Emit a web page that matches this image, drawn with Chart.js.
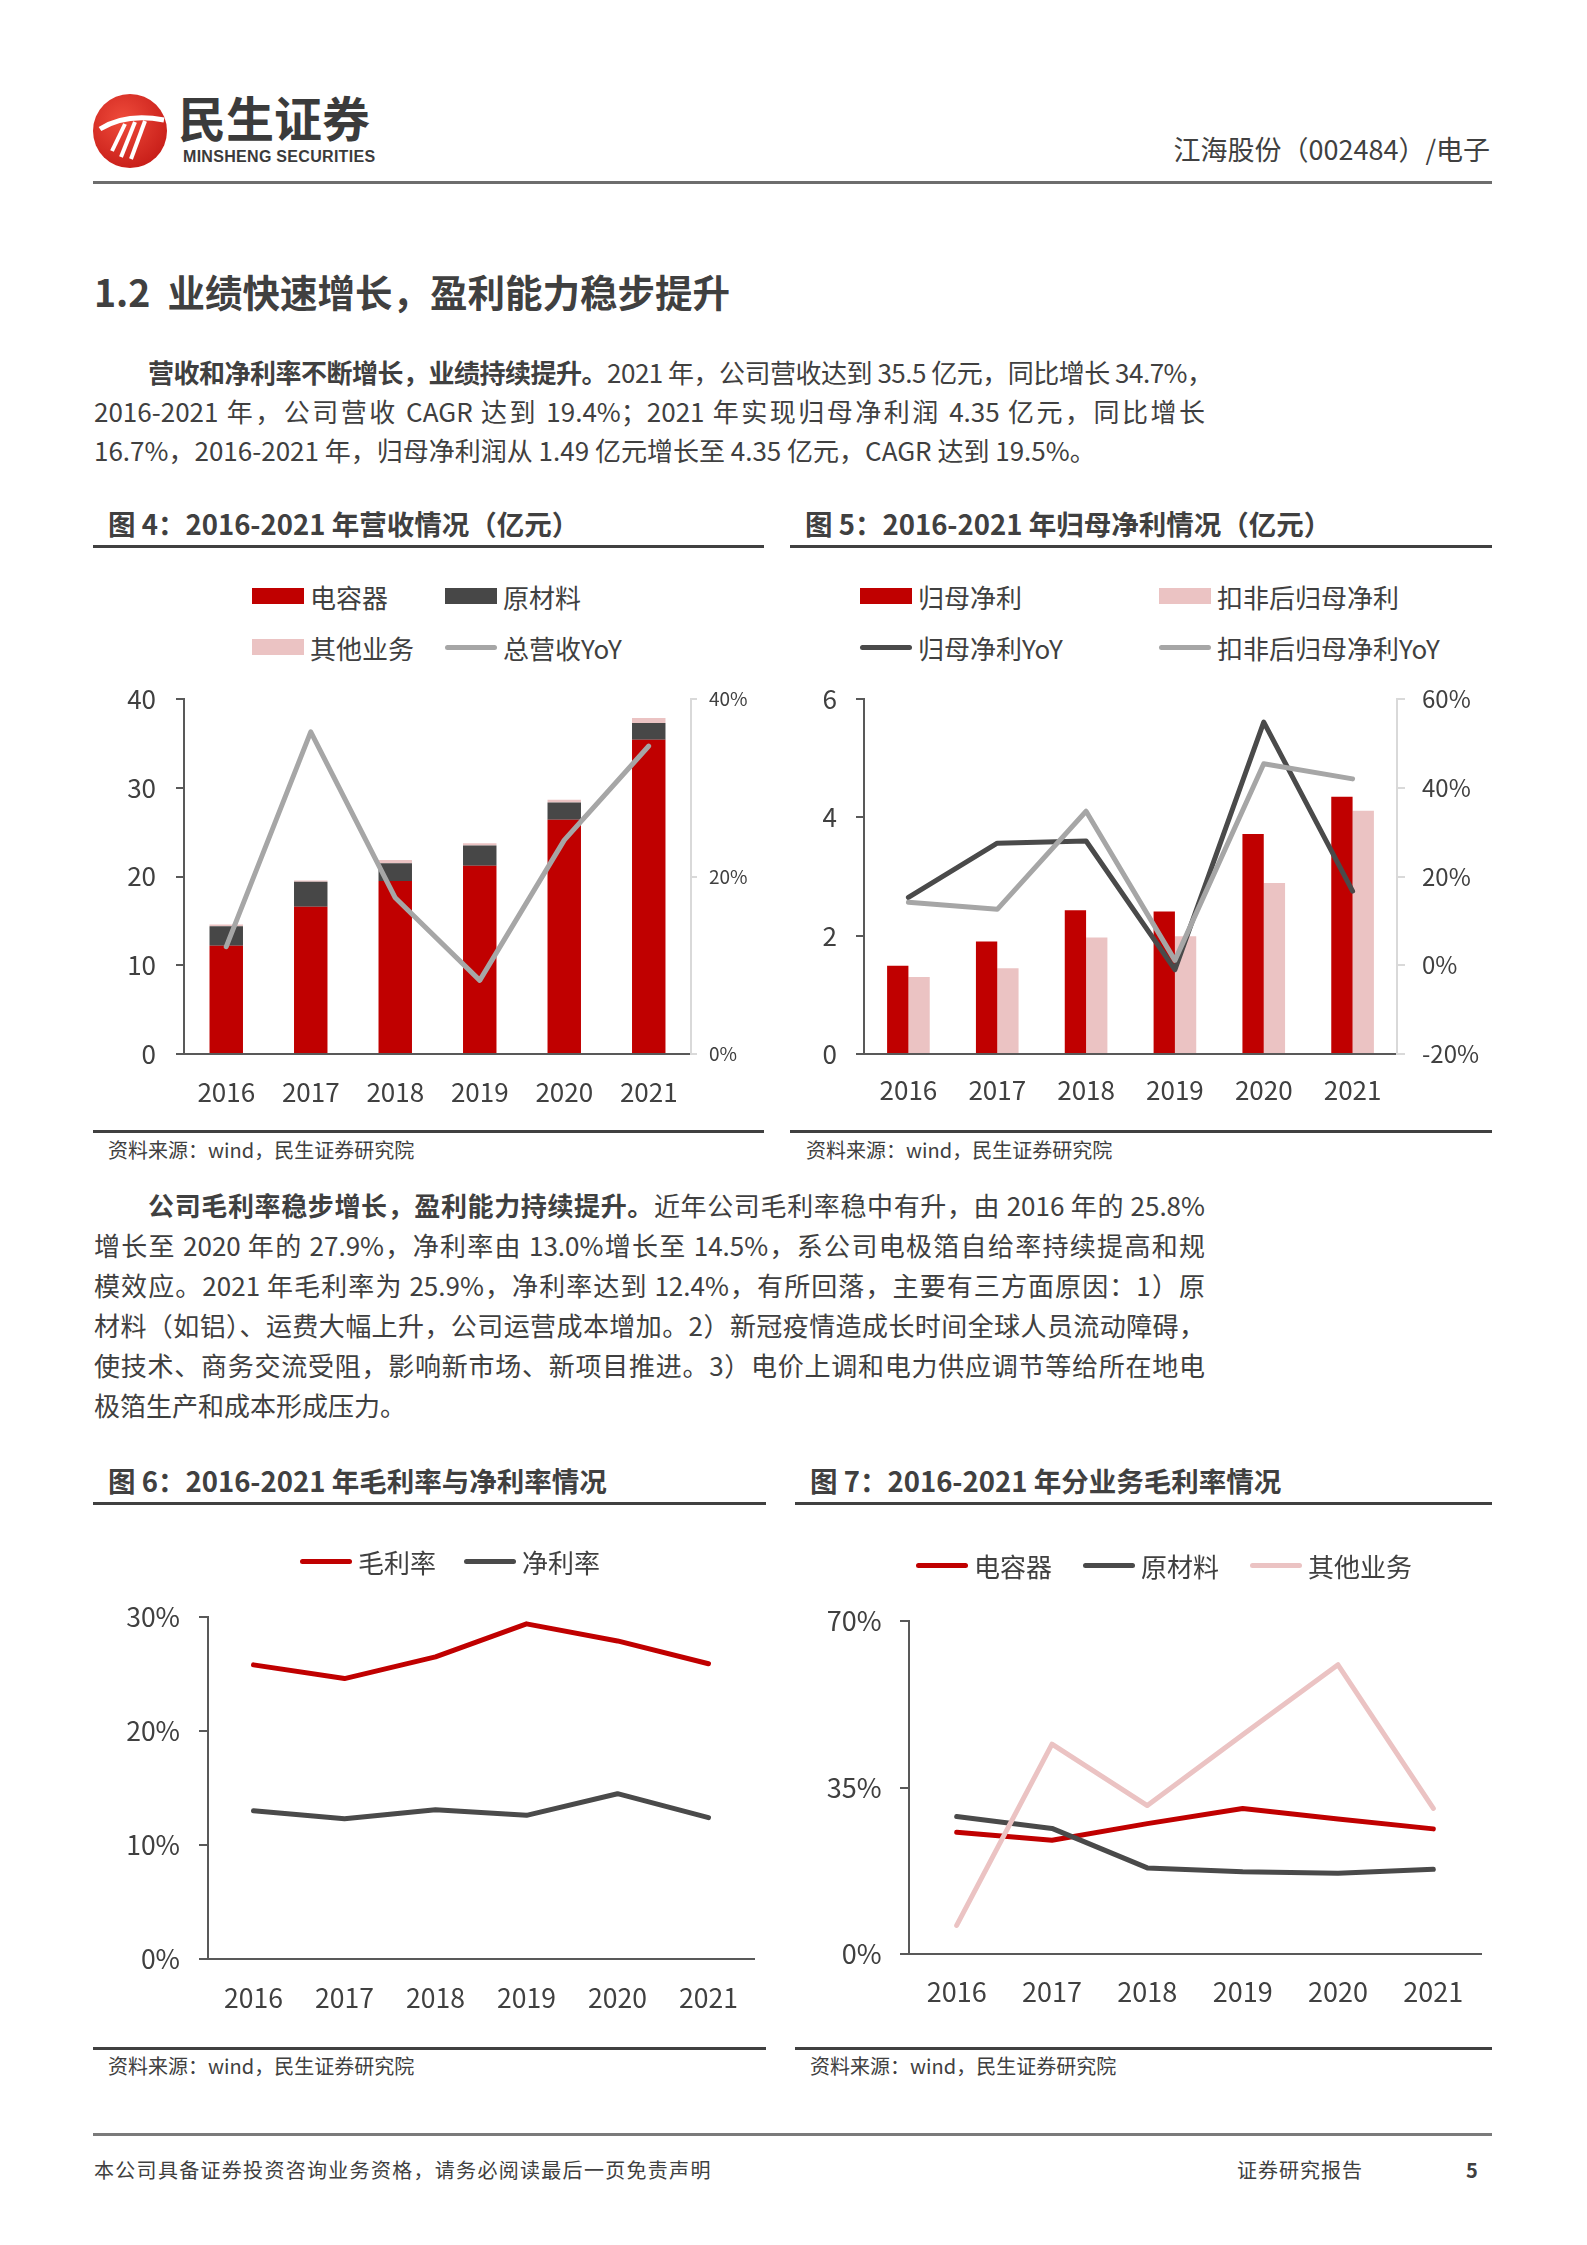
<!DOCTYPE html>
<html lang="zh-CN">
<head>
<meta charset="utf-8">
<title>江海股份（002484）/电子</title>
<script src="https://cdn.jsdelivr.net/npm/chart.js@4.4.1/dist/chart.umd.min.js"></script>
<style>
  html, body { margin: 0; padding: 0; background: #fff; }
  #page { position: relative; width: 1587px; height: 2245px; overflow: hidden; background: #fff;
          font-family: "Noto Sans CJK SC", "Noto Sans", sans-serif; color: #404040; }
  .abs { position: absolute; white-space: nowrap; }
  .rule { position: absolute; height: 3px; background: #404040; }
  .para { position: absolute; left: 94px; width: 1111px; font-size: 26px; }
  .para div { white-space: nowrap; text-align: justify; text-align-last: justify; }
  .para div.last { text-align-last: left; }
  .para b { font-weight: 700; }
  .ftitle { position: absolute; font-size: 27.5px; font-weight: 700; line-height: 40px; white-space: nowrap; }
  .src { position: absolute; font-size: 20px; line-height: 30px; white-space: nowrap; }
  .lg { position: absolute; height: 40px; display: flex; align-items: center; font-size: 26px; white-space: nowrap; }
  .lg .sw { display: inline-block; width: 52px; margin-right: 6px; }
  canvas { position: absolute; }
</style>
</head>
<body>
<div id="page">
  <!-- header -->
  <svg class="abs" style="left:92px;top:93px" width="76" height="76" viewBox="0 0 76 76">
    <defs>
      <radialGradient id="lg" cx="40%" cy="35%" r="70%">
        <stop offset="0" stop-color="#ef4b3b"/>
        <stop offset="1" stop-color="#c71d18"/>
      </radialGradient>
    </defs>
    <circle cx="38" cy="38" r="37" fill="url(#lg)"/>
    <path d="M8 36 C 24 26, 46 22, 72 27" stroke="#fff" stroke-width="5" fill="none"/>
    <path d="M20 58 L 33 31" stroke="#fff" stroke-width="4" fill="none"/>
    <path d="M29 64 L 43 29" stroke="#fff" stroke-width="4" fill="none"/>
    <path d="M39 66 L 53 28" stroke="#fff" stroke-width="4" fill="none"/>
  </svg>
  <div class="abs" style="left:178px;top:86px;font-size:48px;font-weight:700;line-height:60px;color:#3b3b3b;">民生证券</div>
  <div class="abs" style="left:183px;top:147px;font-family:'Liberation Sans',Arial,sans-serif;font-size:16px;font-weight:700;line-height:20px;letter-spacing:0.3px;color:#3b3b3b;">MINSHENG SECURITIES</div>
  <div class="abs" style="right:97px;top:132px;font-size:27px;line-height:34px;">江海股份（002484）/电子</div>
  <div class="rule" style="left:93px;top:181px;width:1399px;background:#6d6d6d;"></div>

  <!-- section heading -->
  <div class="abs" style="left:94px;top:266px;font-size:37.5px;font-weight:700;line-height:50px;">1.2&nbsp; 业绩快速增长，盈利能力稳步提升</div>

  <div class="para" style="top:352px;line-height:39px;">
    <div style="text-indent:54px;height:39px;letter-spacing:-0.5px;"><b>营收和净利率不断增长，业绩持续提升。</b>2021 年，公司营收达到 35.5 亿元，同比增长 34.7%，</div>
    <div style="height:39px;">2016-2021 年，公司营收 CAGR 达到 19.4%；2021 年实现归母净利润 4.35 亿元，同比增长</div>
    <div class="last" style="height:39px;">16.7%，2016-2021 年，归母净利润从 1.49 亿元增长至 4.35 亿元，CAGR 达到 19.5%。</div>
  </div>

  <!-- figure 4 / 5 -->
  <div class="ftitle" style="left:108px;top:503px;">图 4：2016-2021 年营收情况（亿元）</div>
  <div class="ftitle" style="left:805px;top:503px;">图 5：2016-2021 年归母净利情况（亿元）</div>
  <div class="rule" style="left:93px;top:545px;width:671px;"></div>
  <div class="rule" style="left:790px;top:545px;width:702px;"></div>
  <div id="leg4"></div>
  <div id="leg5"></div>
  <canvas id="fig4" width="673" height="466" style="left:93px;top:659px;"></canvas>
  <canvas id="fig5" width="702" height="466" style="left:790px;top:659px;"></canvas>
  <div class="rule" style="left:93px;top:1130px;width:671px;"></div>
  <div class="rule" style="left:790px;top:1130px;width:702px;"></div>
  <div class="src" style="left:108px;top:1135px;">资料来源：wind，民生证券研究院</div>
  <div class="src" style="left:806px;top:1135px;">资料来源：wind，民生证券研究院</div>

  <div class="para" style="top:1185px;line-height:40px;">
    <div style="text-indent:54px;height:40px;"><b>公司毛利率稳步增长，盈利能力持续提升。</b>近年公司毛利率稳中有升，由 2016 年的 25.8%</div>
    <div style="height:40px;">增长至 2020 年的 27.9%，净利率由 13.0%增长至 14.5%，系公司电极箔自给率持续提高和规</div>
    <div style="height:40px;">模效应。2021 年毛利率为 25.9%，净利率达到 12.4%，有所回落，主要有三方面原因：1）原</div>
    <div style="height:40px;">材料（如铝）、运费大幅上升，公司运营成本增加。2）新冠疫情造成长时间全球人员流动障碍，</div>
    <div style="height:40px;">使技术、商务交流受阻，影响新市场、新项目推进。3）电价上调和电力供应调节等给所在地电</div>
    <div class="last" style="height:40px;">极箔生产和成本形成压力。</div>
  </div>

  <!-- figure 6 / 7 -->
  <div class="ftitle" style="left:108px;top:1460px;">图 6：2016-2021 年毛利率与净利率情况</div>
  <div class="ftitle" style="left:810px;top:1460px;">图 7：2016-2021 年分业务毛利率情况</div>
  <div class="rule" style="left:93px;top:1502px;width:673px;"></div>
  <div class="rule" style="left:795px;top:1502px;width:697px;"></div>
  <canvas id="fig6" width="673" height="463" style="left:93px;top:1577px;"></canvas>
  <canvas id="fig7" width="702" height="459" style="left:790px;top:1581px;"></canvas>
  <div id="leg6"></div>
  <div id="leg7"></div>
  <div class="rule" style="left:93px;top:2047px;width:673px;"></div>
  <div class="rule" style="left:795px;top:2047px;width:697px;"></div>
  <div class="src" style="left:108px;top:2051px;">资料来源：wind，民生证券研究院</div>
  <div class="src" style="left:810px;top:2051px;">资料来源：wind，民生证券研究院</div>

  <!-- footer -->
  <div class="rule" style="left:93px;top:2133px;width:1399px;background:#7a7a7a;"></div>
  <div class="abs" style="left:94px;top:2155px;font-size:20px;line-height:30px;letter-spacing:1.3px;">本公司具备证券投资咨询业务资格，请务必阅读最后一页免责声明</div>
  <div class="abs" style="left:1237px;top:2155px;font-size:20px;line-height:30px;letter-spacing:1px;">证券研究报告</div>
  <div class="abs" style="left:1466px;top:2155px;font-size:20px;line-height:30px;font-weight:700;">5</div>
</div>

<script>
// ---- data ----
const years = ['2016', '2017', '2018', '2019', '2020', '2021'];

// 图4 营收（亿元）
const fig4Names = ['电容器', '原材料', '其他业务', '总营收YoY'];
const revCapacitor = [12.2, 16.6, 19.5, 21.2, 26.4, 35.4];
const revMaterial = [2.2, 2.8, 2.0, 2.3, 1.95, 1.9];
const revOther = [0.2, 0.15, 0.37, 0.25, 0.3, 0.55];
const revYoY = [12.1, 36.3, 17.6, 8.3, 24.1, 34.7];
const fig4LeftTicks = [0, 10, 20, 30, 40];
const fig4RightTicks = [0, 20, 40];

// 图5 归母净利（亿元）
const fig5Names = ['归母净利', '扣非后归母净利', '归母净利YoY', '扣非后归母净利YoY'];
const netProfit = [1.49, 1.90, 2.43, 2.41, 3.72, 4.35];
const netProfitDeducted = [1.30, 1.45, 1.97, 1.99, 2.89, 4.11];
const netProfitYoY = [15.3, 27.5, 28.0, -1.0, 54.8, 16.7];
const deductedYoY = [14.2, 12.6, 34.7, 1.1, 45.4, 42.0];
const fig5LeftTicks = [0, 2, 4, 6];
const fig5RightTicks = [-20, 0, 20, 40, 60];

// 图6 毛利率与净利率（%）
const fig6Names = ['毛利率', '净利率'];
const grossMargin = [25.8, 24.6, 26.5, 29.4, 27.9, 25.9];
const netMargin = [13.0, 12.3, 13.1, 12.6, 14.5, 12.4];
const fig6Ticks = [0, 10, 20, 30];

// 图7 分业务毛利率（%）
const fig7Names = ['电容器', '原材料', '其他业务'];
const gmCapacitor = [25.6, 23.9, 27.4, 30.6, 28.4, 26.3];
const gmMaterial = [28.9, 26.4, 18.1, 17.3, 17.0, 17.8];
const gmOther = [6.0, 44.1, 31.2, 46.1, 60.8, 30.6];
const fig7Ticks = [0, 35, 70];

// ---- styles ----
const RED = '#C00000';
const DARK = '#474747';
const PINK = '#EBC3C3';
const GRAY = '#A6A6A6';
const AXIS = '#595959';
const LIGHT = '#D9D9D9';

Chart.defaults.font.family = '"Noto Sans CJK SC", "Noto Sans", sans-serif';
Chart.defaults.color = '#404040';

const fixW = w => s => { s.width = w; };
const fixH = h => s => { s.height = h; };
const useTicks = arr => s => { s.ticks = arr.map(v => ({ value: v })); };
const pct = v => v + '%';

// legend built from the series names / colours
function buildLegend(id, names, colors, kinds, pos) {
  const box = document.getElementById(id);
  names.forEach((name, i) => {
    const item = document.createElement('div');
    item.className = 'lg';
    item.style.left = pos[i][0] + 'px';
    item.style.top = (pos[i][1] - 20) + 'px';
    const sw = document.createElement('span');
    sw.className = 'sw';
    sw.style.background = colors[i];
    if (kinds[i] === 'line') {
      sw.style.height = '5px';
      sw.style.borderRadius = '3px';
    } else {
      sw.style.height = '16px';
    }
    item.appendChild(sw);
    item.appendChild(document.createTextNode(name));
    box.appendChild(item);
  });
}

function xScale(height, size, pad, extra) {
  return Object.assign({
    grid: { display: false, drawTicks: false },
    border: { color: AXIS, width: 2 },
    ticks: { font: { size: size }, padding: pad, color: '#404040' },
    afterFit: fixH(height)
  }, extra || {});
}

function yScale(ticks, width, size, pad, tickLen, extra) {
  return Object.assign({
    min: ticks[0],
    max: ticks[ticks.length - 1],
    afterBuildTicks: useTicks(ticks),
    grid: { drawOnChartArea: false, drawTicks: true, tickLength: tickLen, color: AXIS, lineWidth: 2 },
    border: { color: AXIS, width: 2 },
    ticks: { font: { size: size }, padding: pad, color: '#404040' },
    afterFit: fixW(width)
  }, extra || {});
}

const baseOpts = {
  responsive: false,
  devicePixelRatio: 1,
  animation: false,
  plugins: { legend: { display: false }, tooltip: { enabled: false } }
};

function lineSet(label, data, color, width, extra) {
  return Object.assign({
    type: 'line', label: label, data: data, borderColor: color, backgroundColor: color,
    borderWidth: width, pointRadius: 0, tension: 0, fill: false,
    borderCapStyle: 'round', borderJoinStyle: 'round'
  }, extra || {});
}

// ---- 图4 ----
buildLegend('leg4', fig4Names, [RED, DARK, PINK, GRAY], ['bar', 'bar', 'bar', 'line'],
  [[252, 596], [445, 596], [252, 647], [445, 647]]);

new Chart(document.getElementById('fig4'), {
  type: 'bar',
  data: {
    labels: years,
    datasets: [
      { label: fig4Names[0], data: revCapacitor, backgroundColor: RED, categoryPercentage: 0.4, barPercentage: 0.99 },
      { label: fig4Names[1], data: revMaterial, backgroundColor: DARK, categoryPercentage: 0.4, barPercentage: 0.99 },
      { label: fig4Names[2], data: revOther, backgroundColor: PINK, categoryPercentage: 0.4, barPercentage: 0.99 },
      lineSet(fig4Names[3], revYoY, GRAY, 5, { yAxisID: 'y1', order: -1 })
    ]
  },
  options: Object.assign({}, baseOpts, {
    layout: { padding: { top: 40, left: 0, right: 0, bottom: 0 } },
    scales: {
      x: xScale(71, 26, 23, { stacked: true }),
      y: yScale(fig4LeftTicks, 91, 26, 20, 8, { stacked: true }),
      y1: yScale(fig4RightTicks, 75, 19, 12, 6, {
        position: 'right',
        grid: { drawOnChartArea: false, drawTicks: true, tickLength: 6, color: LIGHT, lineWidth: 2 },
        border: { color: LIGHT, width: 2 },
        ticks: { font: { size: 19 }, padding: 12, color: '#404040', callback: pct }
      })
    }
  })
});

// ---- 图5 ----
buildLegend('leg5', fig5Names, [RED, PINK, '#4A4A4A', GRAY], ['bar', 'bar', 'line', 'line'],
  [[860, 596], [1159, 596], [860, 647], [1159, 647]]);

new Chart(document.getElementById('fig5'), {
  type: 'bar',
  data: {
    labels: years,
    datasets: [
      { label: fig5Names[0], data: netProfit, backgroundColor: RED, categoryPercentage: 0.48, barPercentage: 1 },
      { label: fig5Names[1], data: netProfitDeducted, backgroundColor: PINK, categoryPercentage: 0.48, barPercentage: 1 },
      lineSet(fig5Names[2], netProfitYoY, '#4A4A4A', 5, { yAxisID: 'y1', order: -1 }),
      lineSet(fig5Names[3], deductedYoY, GRAY, 5, { yAxisID: 'y1', order: -2 })
    ]
  },
  options: Object.assign({}, baseOpts, {
    layout: { padding: { top: 40, left: 0, right: 0, bottom: 0 } },
    scales: {
      x: xScale(71, 26, 21, {}),
      y: yScale(fig5LeftTicks, 74, 26, 19, 8),
      y1: yScale(fig5RightTicks, 95, 24, 17, 8, {
        position: 'right',
        grid: { drawOnChartArea: false, drawTicks: true, tickLength: 8, color: LIGHT, lineWidth: 2 },
        border: { color: LIGHT, width: 2 },
        ticks: { font: { size: 24 }, padding: 17, color: '#404040', callback: pct }
      })
    }
  })
});

// ---- 图6 ----
buildLegend('leg6', fig6Names, [RED, '#4A4A4A'], ['line', 'line'], [[300, 1561], [464, 1561]]);

new Chart(document.getElementById('fig6'), {
  type: 'line',
  data: {
    labels: years,
    datasets: [
      lineSet(fig6Names[0], grossMargin, RED, 5),
      lineSet(fig6Names[1], netMargin, '#4A4A4A', 5)
    ]
  },
  options: Object.assign({}, baseOpts, {
    layout: { padding: { top: 40, left: 0, right: 12, bottom: 0 } },
    scales: {
      x: xScale(81, 26.5, 23, { offset: true }),
      y: yScale(fig6Ticks, 115, 26.5, 19, 9, {
        ticks: { font: { size: 26.5 }, padding: 19, color: '#404040', callback: pct }
      })
    }
  })
});

// ---- 图7 ----
buildLegend('leg7', fig7Names, [RED, '#4A4A4A', PINK], ['line', 'line', 'line'],
  [[916, 1565], [1083, 1565], [1250, 1565]]);

new Chart(document.getElementById('fig7'), {
  type: 'line',
  data: {
    labels: years,
    datasets: [
      lineSet(fig7Names[0], gmCapacitor, RED, 5, { order: 0 }),
      lineSet(fig7Names[1], gmMaterial, '#4A4A4A', 5, { order: -1 }),
      lineSet(fig7Names[2], gmOther, PINK, 5, { order: -2 })
    ]
  },
  options: Object.assign({}, baseOpts, {
    layout: { padding: { top: 40, left: 0, right: 11, bottom: 0 } },
    scales: {
      x: xScale(86, 27, 22, { offset: true }),
      y: yScale(fig7Ticks, 119, 27, 18.5, 9, {
        ticks: { font: { size: 27 }, padding: 18.5, color: '#404040', callback: pct }
      })
    }
  })
});
</script>
</body>
</html>
